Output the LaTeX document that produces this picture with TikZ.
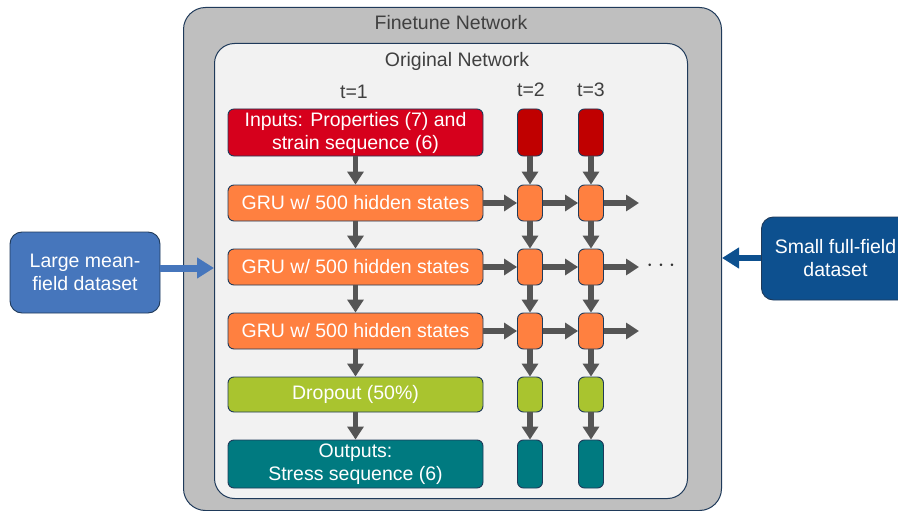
\documentclass[tikz,border=0pt]{standalone}
\usepackage{fontspec}
\setmainfont{Liberation Sans}
\usetikzlibrary{arrows.meta}
\definecolor{navy}{HTML}{1F3A5A}
\definecolor{outerfill}{HTML}{BFBFBF}
\definecolor{innerfill}{HTML}{F2F2F2}
\definecolor{inred}{HTML}{D6001C}
\definecolor{inreddk}{HTML}{C00000}
\definecolor{gruor}{HTML}{FF8040}
\definecolor{dropg}{HTML}{A9C42F}
\definecolor{outteal}{HTML}{007A80}
\definecolor{arrg}{HTML}{555555}
\definecolor{lblue}{HTML}{4676BC}
\definecolor{dblue}{HTML}{0D508F}
\definecolor{txtg}{HTML}{404040}
\tikzset{
  box/.style={draw=navy, line width=0.9pt, rounded corners=6pt, text=white, align=center, inner sep=0pt,
    font=\fontsize{19.5}{23}\selectfont},
  bigbox/.style={box, minimum width=255pt},
  smallbox/.style={box, minimum width=25pt},
  flow/.style={draw=arrg, line width=5.5pt, -{Triangle[length=13pt,width=16pt]}},
  lbl/.style={text=txtg, font=\fontsize{19.5}{23}\selectfont, inner sep=0pt},
}
\begin{document}
\begin{tikzpicture}[x=1pt,y=-1pt]
\useasboundingbox (0,0) rectangle (898,511);
% containers
\node[draw=navy, line width=1pt, fill=outerfill, rounded corners=22pt, minimum width=538pt, minimum height=503pt, anchor=north west] (outer) at (183,7) {};
\node[draw=navy, line width=1pt, fill=innerfill, rounded corners=20pt, minimum width=473pt, minimum height=455pt, anchor=north west] (inner) at (214,43) {};
\node[lbl] (ftl) at (451,23) {Finetune Network};
\node[lbl] (onl) at (457,61) {Original Network};
\node[lbl] (t1) at (354,92) {t=1};
\node[lbl] (t2) at (531,90) {t=2};
\node[lbl] (t3) at (591,90) {t=3};
% main column
\node[bigbox, fill=inred, minimum height=47pt] (in1) at (355.5,132.5) {Inputs: Properties (7) and\\strain sequence (6)};
\node[bigbox, fill=gruor, minimum height=36pt] (g11) at (355.5,203) {GRU w/ 500 hidden states};
\node[bigbox, fill=gruor, minimum height=36pt] (g21) at (355.5,267) {GRU w/ 500 hidden states};
\node[bigbox, fill=gruor, minimum height=36pt] (g31) at (355.5,331) {GRU w/ 500 hidden states};
\node[bigbox, fill=dropg, minimum height=35pt] (d1) at (355.5,394.5) {Dropout (50\%)};
\node[bigbox, fill=outteal, minimum height=48pt] (o1) at (355.5,464) {Outputs:\\Stress sequence (6)};
% t=2 column
\node[smallbox, fill=inreddk, minimum height=47pt] (in2) at (530,132.5) {};
\node[smallbox, fill=gruor, minimum height=36pt] (g12) at (530,203) {};
\node[smallbox, fill=gruor, minimum height=36pt] (g22) at (530,267) {};
\node[smallbox, fill=gruor, minimum height=36pt] (g32) at (530,331) {};
\node[smallbox, fill=dropg, minimum height=35pt] (d2) at (530,394.5) {};
\node[smallbox, fill=outteal, minimum height=48pt] (o2) at (530,464) {};
% t=3 column
\node[smallbox, fill=inreddk, minimum height=47pt] (in3) at (591,132.5) {};
\node[smallbox, fill=gruor, minimum height=36pt] (g13) at (591,203) {};
\node[smallbox, fill=gruor, minimum height=36pt] (g23) at (591,267) {};
\node[smallbox, fill=gruor, minimum height=36pt] (g33) at (591,331) {};
\node[smallbox, fill=dropg, minimum height=35pt] (d3) at (591,394.5) {};
\node[smallbox, fill=outteal, minimum height=48pt] (o3) at (591,464) {};
% vertical arrows
\foreach \c in {1,2,3}{
  \draw[flow] (in\c) -- (g1\c);
  \draw[flow] (g1\c) -- (g2\c);
  \draw[flow] (g2\c) -- (g3\c);
  \draw[flow] (g3\c) -- (d\c);
  \draw[flow] (d\c) -- (o\c);
}
% horizontal arrows
\coordinate (e1) at (639,203);
\coordinate (e2) at (639,267);
\coordinate (e3) at (639,331);
\foreach \r in {1,2,3}{
  \draw[flow] (g\r1) -- (g\r2);
  \draw[flow] (g\r2) -- (g\r3);
  \draw[flow] (g\r3.east) -- (e\r);
}
\node[text=black!80, font=\fontsize{30}{30}\selectfont, inner sep=0pt] (dots) at (661,266) {$\cdots$};
% side datasets
\node[box, fill=lblue, minimum width=150pt, minimum height=81pt, rounded corners=12pt] (large) at (85,272.5) {Large mean-\\field dataset};
\node[box, fill=dblue, minimum width=150pt, minimum height=83pt, rounded corners=12pt, anchor=west] (small) at (761,258.5) {\hspace*{-2pt}Small full-field\\\hspace*{-2pt}dataset};
\draw[draw=lblue, line width=7pt, -{Triangle[length=17pt,width=20pt]}] (large.east |- 0,268) -- (inner.west |- 0,268);
\draw[draw=dblue, line width=6pt, -{Triangle[length=17pt,width=20pt]}] (small.west |- 0,258) -- (outer.east |- 0,258);
\end{tikzpicture}
\end{document}
